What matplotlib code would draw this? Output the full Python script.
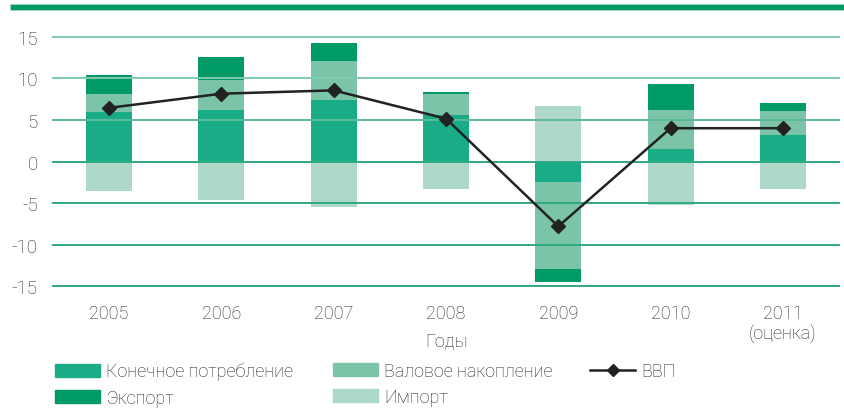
import numpy as np
import matplotlib
matplotlib.use("Agg")
import matplotlib.pyplot as plt
from matplotlib.patches import Rectangle, Patch
from matplotlib.lines import Line2D

plt.rcParams['font.family'] = ['Roboto', 'DejaVu Sans']
plt.rcParams['font.weight'] = 'light'

# Data (percentage points, contribution to GDP growth)
years = ["2005", "2006", "2007", "2008", "2009", "2010", "2011\n(оценка)"]
consumption = [6.0, 6.2, 7.4, 5.6, -2.45, 1.55, 3.2]
accumulation = [2.15, 3.6, 4.7, 2.55, -10.45, 4.65, 2.9]
export = [2.3, 2.8, 2.2, 0.25, -1.55, 3.1, 0.95]
imports = [-3.6, -4.6, -5.5, -3.3, 6.7, -5.2, -3.3]
gdp = [6.45, 8.15, 8.55, 5.15, -7.8, 4.0, 4.0]
yticks = [-15, -10, -5, 0, 5, 10, 15]

c_cons = "#19ac86"
c_acc = "#7bc4a8"
c_exp = "#009a66"
c_imp = "#aed9c8"
txt = "#262626"

fig = plt.figure(figsize=(8.45, 4.10), dpi=100)
ax = fig.add_axes([53 / 845, 1 - 287.3 / 410, 786 / 845, 249.6 / 410])

x = np.arange(len(years))
w = 0.41
cons = np.array(consumption)
acc = np.array(accumulation)
exp_ = np.array(export)
imp = np.array(imports)

ax.bar(x, cons, w, color=c_cons, zorder=2)
ax.bar(x, acc, w, bottom=cons, color=c_acc, zorder=2)
ax.bar(x, exp_, w, bottom=cons + acc, color=c_exp, zorder=2)
ax.bar(x, imp, w, color=c_imp, zorder=2)

for v in yticks:
    col = "#7fcab0" if v > 5 else ("#5bbb98" if v == 5 else "#2fa982")
    ax.axhline(v, color=col, lw=1.4, zorder=3, clip_on=False)

ax.plot(x, gdp, color="#222222", lw=1.8, marker="D", ms=7, zorder=5)

ax.set_xlim(-0.5, len(years) - 0.5)
ax.set_ylim(-15, 15)
ax.set_yticks(yticks)
ax.set_yticklabels([str(v) for v in yticks], fontsize=13.5, color=txt)
ax.set_xticks(x)
ax.set_xticklabels(years, fontsize=13, color=txt, va="top", linespacing=1.05)
ax.tick_params(axis="y", length=0, pad=11)
ax.tick_params(axis="x", length=0, pad=13)
for s in ax.spines.values():
    s.set_visible(False)
fig.text(447 / 845, 1 - 342 / 410, "Годы", fontsize=13, color=txt,
         ha="center", va="center")

# decorative band at the top
fig.patches.append(Rectangle((10 / 845, 1 - 11 / 410), 835 / 845, 6 / 410,
                             transform=fig.transFigure, color=c_exp,
                             ec="#a8dcc6", lw=0.6))

# legend, three columns
leg_kw = dict(frameon=False, fontsize=13, handlelength=2.5, handleheight=0.75,
              handletextpad=0.35, labelspacing=0.45, labelcolor=txt,
              borderaxespad=0, borderpad=0, loc="upper left")
fig.legend(handles=[Patch(color=c_cons, label="Конечное потребление"),
                    Patch(color=c_exp, label="Экспорт")],
           bbox_to_anchor=(55 / 845, 1 - 363 / 410), **leg_kw)
fig.legend(handles=[Patch(color=c_acc, label="Валовое накопление"),
                    Patch(color=c_imp, label="Импорт")],
           bbox_to_anchor=(333 / 845, 1 - 363 / 410), **leg_kw)
fig.legend(handles=[Line2D([], [], color="#222222", lw=1.8, marker="D", ms=6,
                           label="ВВП")],
           bbox_to_anchor=(590 / 845, 1 - 363 / 410), **leg_kw)

fig.savefig("out.png", dpi=100)
